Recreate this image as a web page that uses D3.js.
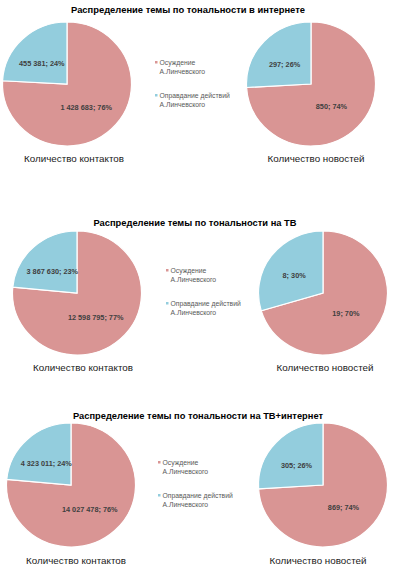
<!doctype html>
<html>
<head>
<meta charset="utf-8">
<script src="https://cdnjs.cloudflare.com/ajax/libs/d3/7.8.5/d3.min.js"></script>
<style>
  body { margin: 0; background: #fff; }
  svg { display: block; font-family: "Liberation Sans", Arial, sans-serif; }
</style>
</head>
<body>
<script>
// data
var categories = ["Осуждение А.Линчевского", "Оправдание действий А.Линчевского"];
var titles = [
  "Распределение темы по тональности в интернете",
  "Распределение темы по тональности на ТВ",
  "Распределение темы по тональности на ТВ+интернет"
];
var pieNames = ["Количество контактов", "Количество новостей"];
var contacts = [[1428683, 455381], [12598795, 3867630], [14027478, 4323011]];
var news = [[850, 297], [19, 8], [869, 305]];

// layout of each block (page coordinates)
var layout = [
  { titleX: 188, titleY: 13, titleW: 234, cy: 84, left: 67, right: 311, nameY: 162, nameL: 74, nameR: 316, legX: 155, legY: 65 },
  { titleX: 195, titleY: 226, titleW: 203, cy: 293, left: 77, right: 323, nameY: 371, nameL: 83, nameR: 325, legX: 166, legY: 273 },
  { titleX: 198, titleY: 419, titleW: 250, cy: 485, left: 71, right: 323, nameY: 564, nameL: 76, nameR: 318, legX: 158, legY: 465 }
];

var width = 393, height = 570;
var rx = 64.5, ry = 62;

var color = d3.scaleOrdinal().domain(categories).range(["#d99594", "#93cddd"]);
var ru = d3.formatLocale({ decimal: ",", thousands: "\u00a0", grouping: [3], currency: ["", ""] });
var fmt = ru.format(",d");

var pie = d3.pie().sort(null).value(function(d) { return d.value; });
var arc = d3.arc().innerRadius(0).outerRadius(ry);
var labelArc = d3.arc().innerRadius(ry * 0.5).outerRadius(ry * 0.5);

var svg = d3.select("body").append("svg")
  .attr("width", width)
  .attr("height", height);

function drawPie(g, values, cx, cy) {
  var total = d3.sum(values);
  var rows = values.map(function(v, i) { return { key: categories[i], value: v }; });
  var arcs = pie(rows);

  var p = g.append("g")
    .attr("transform", "translate(" + cx + "," + cy + ") scale(" + (rx / ry) + ",1)");
  p.selectAll("path")
    .data(arcs)
    .enter().append("path")
    .attr("d", arc)
    .style("fill", function(d) { return color(d.data.key); })
    .style("stroke", "#fff")
    .style("stroke-width", 1.2)
    .style("vector-effect", "non-scaling-stroke");

  g.selectAll("text.val")
    .data(arcs)
    .enter().append("text")
    .attr("class", "val")
    .attr("x", function(d) { return cx + labelArc.centroid(d)[0] * rx / ry - 3; })
    .attr("y", function(d) { return cy + labelArc.centroid(d)[1] + 4; })
    .attr("text-anchor", "middle")
    .style("font-size", "7.3px")
    .style("font-weight", "bold")
    .style("fill", "#404040")
    .text(function(d) { return fmt(d.value) + "; " + Math.round(d.value / total * 100) + "%"; });
}

layout.forEach(function(L, i) {
  var g = svg.append("g");

  g.append("text")
    .attr("x", L.titleX)
    .attr("y", L.titleY)
    .attr("text-anchor", "middle")
    .attr("textLength", L.titleW)
    .attr("lengthAdjust", "spacingAndGlyphs")
    .style("font-size", "9.5px")
    .style("font-weight", "bold")
    .style("fill", "#000")
    .text(titles[i]);

  drawPie(g.append("g"), contacts[i], L.left, L.cy);
  drawPie(g.append("g"), news[i], L.right, L.cy);

  g.append("text")
    .attr("x", L.nameL).attr("y", L.nameY)
    .attr("text-anchor", "middle")
    .style("font-size", "9.8px")
    .style("fill", "#1a1a1a")
    .text(pieNames[0]);
  g.append("text")
    .attr("x", L.nameR).attr("y", L.nameY)
    .attr("text-anchor", "middle")
    .style("font-size", "9.8px")
    .style("fill", "#1a1a1a")
    .text(pieNames[1]);

  // legend
  var leg = g.selectAll("g.leg")
    .data(categories)
    .enter().append("g")
    .attr("class", "leg")
    .attr("transform", function(d, j) { return "translate(" + L.legX + "," + (L.legY + j * 33) + ")"; });
  leg.append("rect")
    .attr("x", 0).attr("y", -4)
    .attr("width", 2.5).attr("height", 2.5)
    .style("fill", function(d) { return color(d); });
  leg.append("text")
    .attr("x", 4.5).attr("y", 0)
    .style("font-size", "6.8px")
    .style("fill", "#595959")
    .selectAll("tspan")
    .data(function(d) {
      var k = d.lastIndexOf(" ");
      return [d.slice(0, k), d.slice(k + 1)];
    })
    .enter().append("tspan")
    .attr("x", 4.5)
    .attr("dy", function(d, j) { return j ? 8.5 : 0; })
    .text(function(d) { return d; });
});
</script>
</body>
</html>
